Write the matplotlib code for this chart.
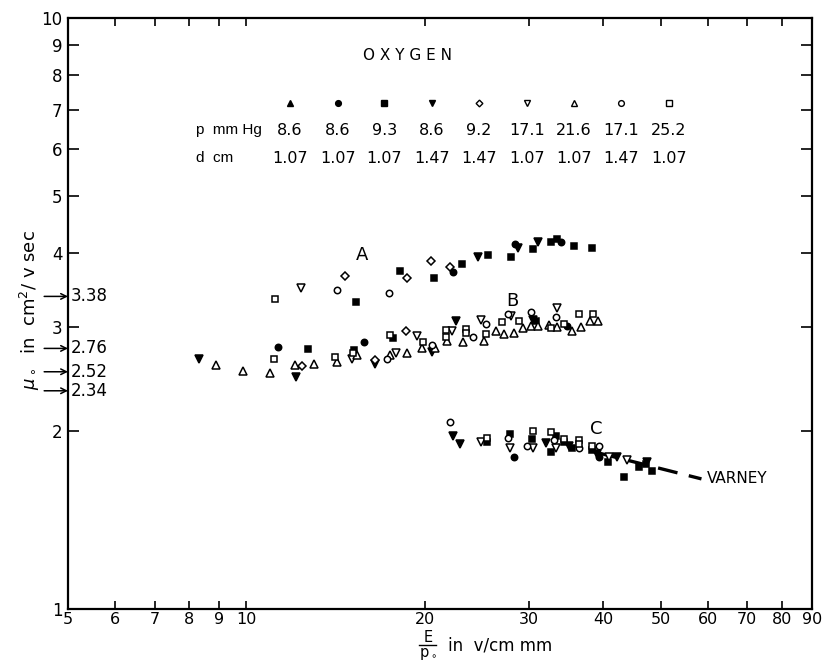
import numpy as np
import matplotlib
matplotlib.use("Agg")
import matplotlib.pyplot as plt
from matplotlib.lines import Line2D

# values: E/p0 (v/cm mm) and mobility (cm^2/v sec)

# filled circle  p=8.6  d=1.07
x_fcirc = [11.3, 15.78, 22.3, 28.4, 33.9, 34.7, 28.3, 39.3]
y_fcirc = [2.78, 2.83, 3.72, 4.15, 4.18, 3.01, 1.81, 1.81]

# filled square  p=9.3  d=1.07
x_fsq = [12.7, 17.66, 15.18, 15.3, 18.15, 20.7, 23.1, 25.6, 28.0, 30.4, 32.7,
         33.4, 35.7, 38.3, 30.8,
         25.5, 27.9, 30.3, 33.3, 32.6, 34.4, 35.5, 38.3, 40.7, 43.3, 45.9,
         47.2, 48.3]
y_fsq = [2.75, 2.87, 2.74, 3.31, 3.73, 3.63, 3.83, 3.97, 3.94, 4.07, 4.18,
         4.23, 4.11, 4.08, 3.07,
         1.92, 1.98, 1.94, 1.96, 1.84, 1.92, 1.87, 1.86, 1.77, 1.67, 1.74,
         1.76, 1.71]

# filled triangle down  p=8.6  d=1.47
x_fdown = [8.32, 12.12, 16.5, 20.55, 22.6, 30.4, 24.6, 28.7, 31.1,
           22.3, 22.9, 32.0, 35.0, 39.0, 42.2, 47.4]
y_fdown = [2.65, 2.47, 2.60, 2.72, 3.07, 3.08, 3.94, 4.08, 4.18,
           1.96, 1.90, 1.91, 1.89, 1.83, 1.81, 1.77]

# open diamond  p=9.2  d=1.47
x_odia = [12.4, 16.47, 18.6, 14.66, 18.7, 20.5, 22.1]
y_odia = [2.58, 2.64, 2.95, 3.66, 3.63, 3.88, 3.79]

# open triangle down  p=17.1  d=1.07
x_odown = [12.36, 15.07, 17.9, 19.4, 22.2, 24.9, 28.0, 33.4,
           24.9, 27.8, 30.5, 33.3, 40.9, 43.8]
y_odown = [3.49, 2.65, 2.71, 2.90, 2.95, 3.08, 3.13, 3.23,
           1.92, 1.87, 1.87, 1.87, 1.81, 1.79]

# open triangle up  p=21.6  d=1.07
x_oup = [8.88, 9.87, 10.96, 12.07, 13.0, 14.2, 15.36, 17.46, 18.65, 19.8,
         20.8, 21.8, 23.2, 25.2, 26.4, 27.2, 28.3, 29.3, 30.2, 31.1, 32.4,
         33.4, 35.5, 36.7, 38.0, 39.2]
y_oup = [2.59, 2.53, 2.51, 2.59, 2.60, 2.62, 2.69, 2.69, 2.71, 2.76,
         2.76, 2.84, 2.83, 2.84, 2.95, 2.92, 2.93, 2.99, 3.01, 3.01, 3.02,
         3.00, 2.95, 3.00, 3.07, 3.07]

# open circle  p=17.1  d=1.47
x_ocirc = [14.2, 17.4, 17.3, 20.55, 24.1, 25.4, 27.6, 30.2, 33.3,
           22.1, 27.6, 29.8, 33.1, 36.4, 39.3]
y_ocirc = [3.47, 3.42, 2.65, 2.80, 2.89, 3.03, 3.16, 3.18, 3.12,
           2.07, 1.95, 1.89, 1.93, 1.87, 1.89]

# open square  p=25.2  d=1.07
x_osq = [11.17, 11.13, 14.1, 15.12, 17.46, 19.85, 21.7, 21.7, 23.5, 23.5,
         25.4, 27.0, 28.8, 32.6, 34.3, 36.4, 38.4,
         25.5, 30.5, 32.6, 34.3, 36.4, 36.4, 38.3]
y_osq = [3.35, 2.65, 2.67, 2.71, 2.91, 2.83, 2.97, 2.89, 2.98, 2.93,
         2.92, 3.06, 3.07, 2.99, 3.03, 3.15, 3.16,
         1.95, 2.00, 1.99, 1.94, 1.93, 1.90, 1.89]

# Varney curve
x_varney = [39.0, 58.6]
y_varney = [1.84, 1.66]

# legend table
p_vals = ["8.6", "8.6", "9.3", "8.6", "9.2", "17.1", "21.6", "17.1", "25.2"]
d_vals = ["1.07", "1.07", "1.07", "1.47", "1.47", "1.07", "1.07", "1.47", "1.07"]
legend_marks = [("^", True), ("o", True), ("s", True), ("v", True),
                ("D", False), ("v", False), ("^", False), ("o", False),
                ("s", False)]

ref_levels = [3.38, 2.76, 2.52, 2.34]

xticks = [5, 6, 7, 8, 9, 10, 20, 30, 40, 50, 60, 70, 80, 90]
yticks = [1, 2, 3, 4, 5, 6, 7, 8, 9, 10]

plt.rcParams['font.family'] = ['DejaVu Sans']
plt.rcParams['mathtext.fontset'] = 'dejavusans'

fig = plt.figure(figsize=(8.22, 6.67), dpi=100)
ax = fig.add_axes([0.0827, 0.087, 0.905, 0.886])
ax.set_xscale('log')
ax.set_yscale('log')
ax.set_xlim(5, 90)
ax.set_ylim(1, 10)

sizes = {"o": 4.6, "s": 4.3, "^": 5.2, "v": 5.2, "D": 3.8}


def draw(xs, ys, m, filled):
    fc = 'black' if filled else 'white'
    ax.plot(xs, ys, linestyle='none', marker=m, ms=sizes[m],
            mfc=fc, mec='black', mew=1.1, zorder=3)


draw(x_fcirc, y_fcirc, "o", True)
draw(x_fsq, y_fsq, "s", True)
draw(x_fdown, y_fdown, "v", True)
draw(x_odia, y_odia, "D", False)
draw(x_odown, y_odown, "v", False)
draw(x_oup, y_oup, "^", False)
draw(x_ocirc, y_ocirc, "o", False)
draw(x_osq, y_osq, "s", False)

ax.plot(x_varney, y_varney, color='black', lw=2.4, dashes=(6, 3.5), zorder=2)

# ticks
ax.xaxis.set_minor_locator(matplotlib.ticker.NullLocator())
ax.yaxis.set_minor_locator(matplotlib.ticker.NullLocator())
ax.set_xticks(xticks)
ax.set_xticklabels([str(t) for t in xticks])
ax.set_yticks(yticks)
ax.set_yticklabels([str(t) for t in yticks])
ax.tick_params(axis='x', which='major', direction='in', length=6, width=1.2,
               top=True, labelsize=11.5, pad=2)
ax.tick_params(axis='y', which='major', direction='in', length=8, width=1.2,
               right=True, labelsize=12, pad=4)
for s in ax.spines.values():
    s.set_linewidth(1.6)

# reference arrows on the left axis
ytr = ax.get_yaxis_transform()
for v in ref_levels:
    ax.annotate('', xy=(0.0, v), xycoords=ytr, xytext=(-0.032, v),
                textcoords=ytr,
                arrowprops=dict(arrowstyle='->', lw=1.1, color='black',
                                shrinkA=0, shrinkB=0),
                annotation_clip=False)
    ax.text(0.004, v, "%.2f" % v, transform=ytr, ha='left', va='center',
            fontsize=12)

# curve labels
ax.text(15.7, 3.97, "A", fontsize=13, ha='center', va='center')
ax.text(28.1, 3.32, "B", fontsize=13, ha='center', va='center')
ax.text(39.0, 2.02, "C", fontsize=13, ha='center', va='center')
ax.text(59.8, 1.66, "VARNEY", fontsize=11, ha='left', va='center')

# legend table
ax.text(0.457, 0.936, "O X Y G E N", transform=ax.transAxes, fontsize=11,
        ha='center', va='center')
col_x = [0.298, 0.363, 0.425, 0.489, 0.552, 0.617, 0.680, 0.743, 0.808]
for cx, (m, filled), pv, dv in zip(col_x, legend_marks, p_vals, d_vals):
    ax.plot([cx], [0.856], transform=ax.transAxes, linestyle='none',
            marker=m, ms=sizes[m] * 0.9, mfc='black' if filled else 'white',
            mec='black', mew=1.0, clip_on=False)
    ax.text(cx, 0.810, pv, transform=ax.transAxes, fontsize=11.5,
            ha='center', va='center')
    ax.text(cx, 0.763, dv, transform=ax.transAxes, fontsize=11.5,
            ha='center', va='center')
ax.text(0.172, 0.810, "p  mm Hg", transform=ax.transAxes, fontsize=11,
        family=['Liberation Sans', 'DejaVu Sans'], ha='left', va='center')
ax.text(0.172, 0.763, "d  cm", transform=ax.transAxes, fontsize=11,
        family=['Liberation Sans', 'DejaVu Sans'], ha='left', va='center')

# axis titles
fig.text(0.037, 0.535, r"$\mu_\circ$  in  cm$^2$/ v sec", rotation=90,
         fontsize=13, ha='center', va='center')
# E over p0, then the units
fig.text(0.5205, 0.044, "E", fontsize=10.5, ha='center', va='center')
fig.add_artist(Line2D([0.510, 0.531], [0.0335, 0.0335], color='black',
                      lw=1.0))
fig.text(0.5205, 0.019, r"p$_\circ$", fontsize=10.5, ha='center',
         va='center')
fig.text(0.545, 0.032, "in  v/cm mm", fontsize=12, ha='left', va='center')

fig.savefig("out.png", dpi=100)
